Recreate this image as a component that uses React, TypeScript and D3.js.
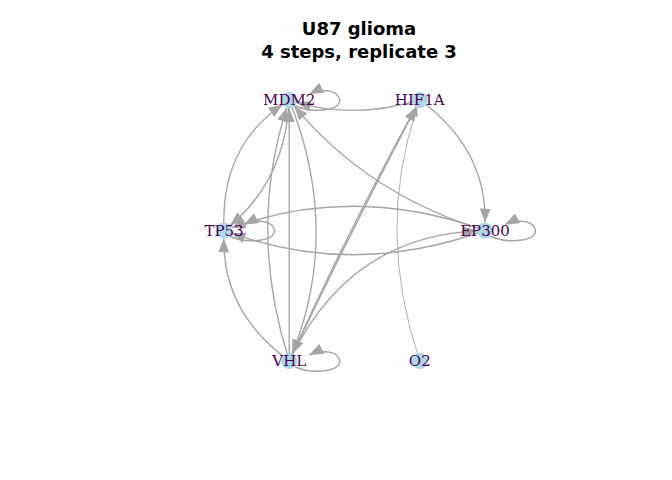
import { useEffect, useRef } from 'react';
import * as d3 from 'd3';

const nodeNames = ['MDM2', 'HIF1A', 'TP53', 'EP300', 'VHL', 'O2'];
const nodeX = [-0.5, 0.5, -1, 1, -0.5, 0.5];
const nodeY = [1, 1, 0, 0, -1, -1];
// [from, to, curvature, width]
const edges: [string, string, number, number][] = [
    ['HIF1A', 'MDM2', -0.15, 1.4],
    ['TP53', 'MDM2', -0.28, 1.4],
    ['MDM2', 'TP53', -0.22, 1.4],
    ['VHL', 'MDM2', -0.16, 1.4],
    ['VHL', 'MDM2', 0.0, 1.4],
    ['MDM2', 'VHL', -0.2, 1.4],
    ['EP300', 'MDM2', -0.15, 1.4],
    ['HIF1A', 'EP300', -0.26, 1.4],
    ['EP300', 'TP53', 0.18, 1.4],
    ['EP300', 'TP53', -0.18, 1.4],
    ['VHL', 'TP53', -0.26, 1.4],
    ['VHL', 'EP300', -0.3, 1.4],
    ['HIF1A', 'VHL', 0.02, 1.4],
    ['VHL', 'HIF1A', -0.01, 1.4],
    ['O2', 'HIF1A', -0.17, 0.9],
];
const selfLoops = ['MDM2', 'TP53', 'EP300', 'VHL'];
const titleLines = ['U87 glioma', '4 steps, replicate 3'];

export default function App() {
    const ref = useRef<SVGSVGElement>(null);

    useEffect(() => {
        const svg = d3.select(ref.current);
        svg.selectAll('*').remove();
        const x = d3.scaleLinear().domain([-1, 1]).range([224, 485]);
        const y = d3.scaleLinear().domain([-1, 1]).range([361, 100]);
        const pos = new Map(nodeNames.map((n, i) => [n, [x(nodeX[i]), y(nodeY[i])]]));
        const col = '#a6a6a6';

        const defs = svg.append('defs');
        [['arr', 14, 11], ['arrS', 9, 7]].forEach(([id, L, W]) => {
            defs.append('marker').attr('id', id as string)
                .attr('markerUnits', 'userSpaceOnUse')
                .attr('viewBox', `0 0 ${L} ${W}`)
                .attr('refX', L as number).attr('refY', (W as number) / 2)
                .attr('markerWidth', L as number).attr('markerHeight', W as number)
                .attr('orient', 'auto')
                .append('path').attr('d', `M0,0L${L},${(W as number) / 2}L0,${W}Z`).attr('fill', col);
        });

        const g = svg.append('g');
        edges.forEach(([a, b, c, w]) => {
            const [x1, y1] = pos.get(a)!;
            const [x2, y2] = pos.get(b)!;
            const dx = x2 - x1, dy = y2 - y1;
            const cx = (x1 + x2) / 2 - dy * c;
            const cy = (y1 + y2) / 2 + dx * c;
            const ex = x2 - cx, ey = y2 - cy;
            const el = Math.hypot(ex, ey);
            const tx = x2 - ex / el * 8, ty = y2 - ey / el * 8;
            const p = d3.path();
            p.moveTo(x1, y1);
            p.quadraticCurveTo(cx, cy, tx, ty);
            g.append('path').attr('d', p.toString()).attr('fill', 'none')
                .attr('stroke', col).attr('stroke-width', w)
                .attr('marker-end', w < 1 ? 'url(#arrS)' : 'url(#arr)');
        });

        selfLoops.forEach(n => {
            const [px, py] = pos.get(n)!;
            const p = d3.path();
            p.moveTo(px + 6, py + 6);
            p.bezierCurveTo(px + 25, py + 14, px + 55, py + 10, px + 50, py - 2);
            p.bezierCurveTo(px + 46, py - 12, px + 28, py - 10, px + 20, py - 6);
            g.append('path').attr('d', p.toString()).attr('fill', 'none')
                .attr('stroke', col).attr('stroke-width', 1.4).attr('marker-end', 'url(#arr)');
        });

        const nodes = svg.append('g').selectAll('g').data(nodeNames).join('g')
            .attr('transform', d => `translate(${pos.get(d)![0]},${pos.get(d)![1]})`);
        nodes.append('circle').attr('r', 8).attr('fill', '#add8e6');
        nodes.append('text').text(d => d).attr('text-anchor', 'middle').attr('dy', '0.35em')
            .attr('font-family', 'DejaVu Serif').attr('font-size', 15).attr('fill', '#4b0055');

        svg.append('g').selectAll('text').data(titleLines).join('text')
            .attr('x', 359).attr('y', (_, i) => 35 + i * 23).attr('text-anchor', 'middle')
            .attr('font-family', 'DejaVu Sans').attr('font-weight', 'bold').attr('font-size', 18)
            .text(d => d);
    }, []);

    return (
        <svg ref={ref} width={672} height={480}
            style={{ position: 'absolute', left: 0, top: 0, background: '#fff' }} />
    );
}
